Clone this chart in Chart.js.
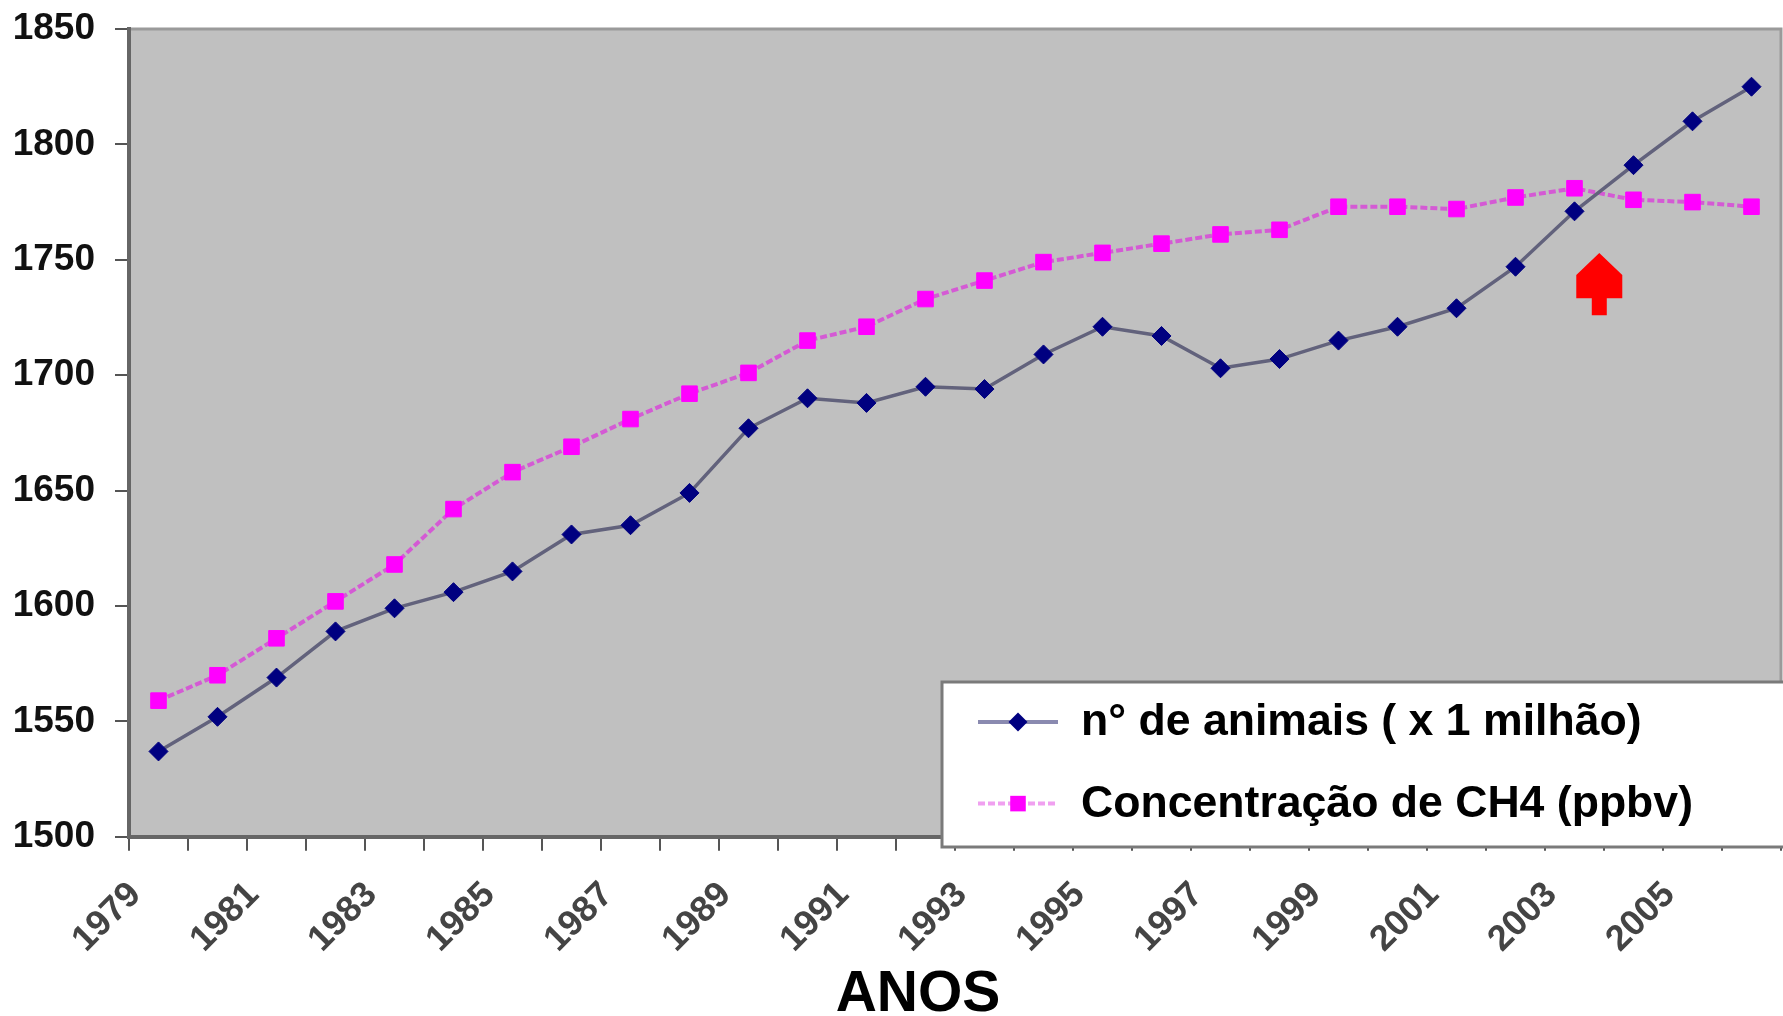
<!DOCTYPE html>
<html lang="pt">
<head>
<meta charset="utf-8">
<title>Animais e concentração de CH4</title>
<script src="https://cdn.jsdelivr.net/npm/chart.js@4.4.1/dist/chart.umd.min.js"></script>
<style>
  html, body { margin: 0; padding: 0; background: #fff; }
  #wrap { width: 1783px; height: 1016px; }
</style>
</head>
<body>
<div id="wrap"><canvas id="grafico" width="1783" height="1016"></canvas></div>
<script>
// Anos (categorias do eixo x)
const anos = ['1979', '1980', '1981', '1982', '1983', '1984', '1985', '1986', '1987', '1988',
              '1989', '1990', '1991', '1992', '1993', '1994', '1995', '1996', '1997', '1998',
              '1999', '2000', '2001', '2002', '2003', '2004', '2005', '2006'];

// Rótulos mostrados no eixo x (um ano sim, outro não)
const rotulosX = ['1979', '1981', '1983', '1985', '1987', '1989', '1991',
                  '1993', '1995', '1997', '1999', '2001', '2003', '2005'];

// Marcas do eixo y
const marcasY = [1500, 1550, 1600, 1650, 1700, 1750, 1800, 1850];

// n° de animais ( x 1 milhão)
const animais = [1537, 1552, 1569, 1589, 1599, 1606, 1615, 1631, 1635, 1649,
                 1677, 1690, 1688, 1695, 1694, 1709, 1721, 1717, 1703, 1707,
                 1715, 1721, 1729, 1747, 1771, 1791, 1810, 1825];

// Concentração de CH4 (ppbv)
const metano = [1559, 1570, 1586, 1602, 1618, 1642, 1658, 1669, 1681, 1692,
                1701, 1715, 1721, 1733, 1741, 1749, 1753, 1757, 1761, 1763,
                1773, 1773, 1772, 1777, 1781, 1776, 1775, 1773];

// Seta vermelha (em unidades do gráfico: índice do ano e valores do eixo y)
const setaIndice = 24.42;
const setaTopo = 1753;
const setaBase = 1726;

const FONTE = "'Liberation Sans', Arial, Helvetica, sans-serif";

// Fundo cinza da área do gráfico + borda superior/direita
const fundoPlot = {
  id: 'fundoPlot',
  beforeDraw(chart) {
    const { ctx, chartArea: a } = chart;
    ctx.save();
    ctx.fillStyle = '#c0c0c0';
    ctx.fillRect(a.left, a.top, a.right - a.left, a.bottom - a.top);
    ctx.strokeStyle = '#9a9a9a';
    ctx.lineWidth = 3;
    ctx.beginPath();
    ctx.moveTo(a.left, a.top);
    ctx.lineTo(a.right, a.top);
    ctx.lineTo(a.right, a.bottom);
    ctx.stroke();
    ctx.restore();
  }
};

// Seta vermelha apontando para o cruzamento das curvas
const seta = {
  id: 'seta',
  afterDatasetsDraw(chart) {
    const { ctx } = chart;
    const x = chart.scales.x.getPixelForValue(setaIndice);
    const yTopo = chart.scales.y.getPixelForValue(setaTopo);
    const yBase = chart.scales.y.getPixelForValue(setaBase);
    const h = yBase - yTopo;
    const cabeca = 23, haste = 7.5;
    const ombro = yTopo + h * 0.355;
    const pescoco = yTopo + h * 0.726;
    ctx.save();
    ctx.fillStyle = '#ff0000';
    ctx.beginPath();
    ctx.moveTo(x, yTopo);
    ctx.lineTo(x + cabeca, ombro);
    ctx.lineTo(x + cabeca, pescoco);
    ctx.lineTo(x + haste, pescoco);
    ctx.lineTo(x + haste, yBase);
    ctx.lineTo(x - haste, yBase);
    ctx.lineTo(x - haste, pescoco);
    ctx.lineTo(x - cabeca, pescoco);
    ctx.lineTo(x - cabeca, ombro);
    ctx.closePath();
    ctx.fill();
    ctx.restore();
  }
};

// Título do eixo x, um pouco à esquerda do centro como no original
const tituloX = {
  id: 'tituloX',
  afterDraw(chart) {
    const { ctx } = chart;
    ctx.save();
    ctx.fillStyle = '#000';
    ctx.font = 'bold 57px ' + FONTE;
    ctx.textAlign = 'center';
    ctx.textBaseline = 'alphabetic';
    ctx.fillText('ANOS', 918, 1011);
    ctx.restore();
  }
};

function desenhaMarcador(ctx, estilo, x, y, r, cor) {
  ctx.fillStyle = cor;
  ctx.beginPath();
  if (estilo === 'rectRot') {
    ctx.moveTo(x, y - r);
    ctx.lineTo(x + r, y);
    ctx.lineTo(x, y + r);
    ctx.lineTo(x - r, y);
  } else {
    const s = r * Math.SQRT1_2;
    ctx.rect(x - s, y - s, 2 * s, 2 * s);
  }
  ctx.closePath();
  ctx.fill();
}

// Legenda em caixa branca no canto inferior direito
const legendaCaixa = {
  id: 'legendaCaixa',
  afterDraw(chart) {
    const { ctx } = chart;
    const esq = 942, topo = 682, base = 847;
    ctx.save();
    ctx.fillStyle = '#ffffff';
    ctx.fillRect(esq, topo, chart.width - esq + 5, base - topo);
    ctx.strokeStyle = '#7a7a7a';
    ctx.lineWidth = 3;
    ctx.strokeRect(esq, topo, chart.width - esq + 5, base - topo);

    chart.data.datasets.forEach((ds, i) => {
      const y = 722 + i * 81.6;
      ctx.strokeStyle = ds.legendLineColor;
      ctx.lineWidth = 4;
      ctx.setLineDash(ds.borderDash || []);
      ctx.beginPath();
      ctx.moveTo(978, y);
      ctx.lineTo(1058, y);
      ctx.stroke();
      ctx.setLineDash([]);
      desenhaMarcador(ctx, ds.pointStyle, 1018, y, ds.pointRadius, ds.pointBackgroundColor);

      ctx.fillStyle = '#000';
      ctx.font = 'bold 44.6px ' + FONTE;
      ctx.textAlign = 'left';
      ctx.textBaseline = 'middle';
      ctx.fillText(ds.label, 1081, y + 1);
    });
    ctx.restore();
  }
};

new Chart(document.getElementById('grafico'), {
  type: 'line',
  data: {
    labels: anos,
    datasets: [
      {
        label: 'n° de animais ( x 1 milhão)',
        data: animais,
        borderColor: '#62627c',
        legendLineColor: '#8a8ab0',
        borderWidth: 3.5,
        pointStyle: 'rectRot',
        pointRadius: 9.5,
        pointBackgroundColor: '#000080',
        pointBorderColor: '#000080',
        pointBorderWidth: 1,
        tension: 0
      },
      {
        label: 'Concentração de CH4 (ppbv)',
        data: metano,
        borderColor: '#d45ad4',
        legendLineColor: '#f0a0f0',
        borderWidth: 4,
        borderDash: [7, 3],
        pointStyle: 'rect',
        pointRadius: 11,
        pointBackgroundColor: '#ff00ff',
        pointBorderColor: '#ff00ff',
        pointBorderWidth: 1,
        tension: 0
      }
    ]
  },
  options: {
    responsive: false,
    animation: false,
    devicePixelRatio: 1,
    layout: { autoPadding: false, padding: { left: 13, right: 2, top: 29, bottom: 32 } },
    plugins: {
      legend: { display: false },
      tooltip: { enabled: false }
    },
    scales: {
      x: {
        offset: true,
        afterFit(scale) {
          scale.paddingLeft = 0;
          scale.paddingRight = 0;
        },
        grid: { offset: true, drawOnChartArea: false, drawTicks: true, tickLength: 14, color: '#555', lineWidth: 2 },
        border: { display: true, color: '#666', width: 4 },
        ticks: {
          autoSkip: false,
          minRotation: 45,
          maxRotation: 45,
          padding: 23,
          labelOffset: -23,
          color: '#444',
          font: { family: FONTE, size: 36, weight: 'bold' },
          callback(v, i) {
            return rotulosX.includes(anos[i]) ? anos[i] : '';
          }
        }
      },
      y: {
        min: marcasY[0],
        max: marcasY[marcasY.length - 1],
        afterBuildTicks(scale) {
          scale.ticks = marcasY.map(v => ({ value: v }));
        },
        afterFit(scale) {
          scale.width = 116;
          scale.paddingTop = 0;
          scale.paddingBottom = 0;
        },
        grid: { drawOnChartArea: false, drawTicks: true, tickLength: 14, color: '#555', lineWidth: 2 },
        border: { display: true, color: '#666', width: 4 },
        ticks: {
          padding: 20,
          color: '#111',
          font: { family: FONTE, size: 37, weight: 'bold' },
          callback(v) {
            return String(v);
          }
        }
      }
    }
  },
  plugins: [fundoPlot, seta, tituloX, legendaCaixa]
});
</script>
</body>
</html>
